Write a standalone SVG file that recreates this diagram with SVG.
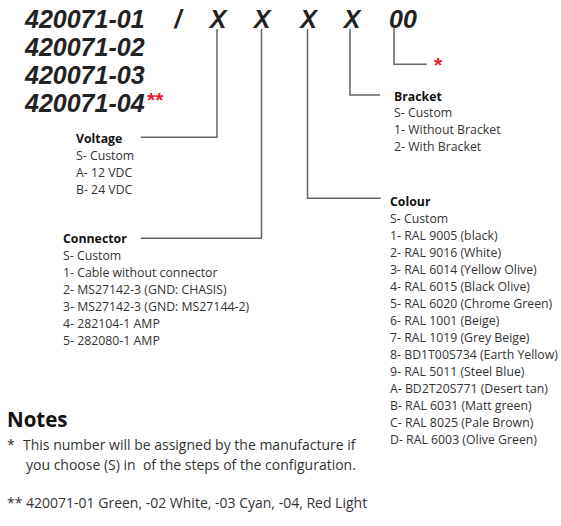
<svg xmlns="http://www.w3.org/2000/svg" width="561" height="526" viewBox="0 0 561 526">
<style>
.pn{font-family:"Liberation Sans",Arial,sans-serif;font-weight:bold;font-style:italic;font-size:25px;fill:#222}
.hd{font-family:"Open Sans","Noto Sans",sans-serif;font-weight:bold;font-size:12.3px;fill:#111}
.it{font-family:"Open Sans","Noto Sans",sans-serif;font-size:12.3px;fill:#333}
.nt{font-family:"Open Sans","Noto Sans",sans-serif;font-size:14px;fill:#333}
.red{font-family:"Liberation Sans",Arial,sans-serif;font-weight:bold;fill:#e8202a}
.ln{fill:none;stroke:#666;stroke-width:1.5}
</style>
<rect width="561" height="526" fill="#fff"/>
<g id="part-numbers">
<text class="pn" x="25" y="27.5">420071-01</text>
<text class="pn" x="25" y="55.5">420071-02</text>
<text class="pn" x="25" y="83.5">420071-03</text>
<text class="pn" x="25" y="111.5">420071-04</text>
<text class="red" x="147" y="106.5" font-size="21">**</text>
<text class="pn" x="178" y="27.5" text-anchor="middle">/</text>
<text class="pn" x="218" y="27.5" text-anchor="middle">X</text>
<text class="pn" x="262" y="27.5" text-anchor="middle">X</text>
<text class="pn" x="308.5" y="27.5" text-anchor="middle">X</text>
<text class="pn" x="352" y="27.5" text-anchor="middle">X</text>
<text class="pn" x="389" y="27.5">00</text>
</g>
<g id="connectors">
<polyline class="ln" points="217,29 217,137.3 140.7,137.3"/>
<polyline class="ln" points="261.5,29 261.5,238.3 140.7,238.3"/>
<polyline class="ln" points="307.5,29 307.5,198.3 380.7,198.3"/>
<polyline class="ln" points="350,29 350,95 380,95"/>
<polyline class="ln" points="394,28 394,64.3 426.7,64.3"/>
</g>
<g id="custom-mark">
<text class="red" x="434" y="71.5" font-size="21">*</text>
</g>
<g id="voltage">
<text class="hd" x="76" y="143">Voltage</text>
<text class="it" x="76" y="160">S- Custom</text>
<text class="it" x="76" y="177">A- 12 VDC</text>
<text class="it" x="76" y="194">B- 24 VDC</text>
</g>
<g id="connector">
<text class="hd" x="63" y="243">Connector</text>
<text class="it" x="63" y="260">S- Custom</text>
<text class="it" x="63" y="277">1- Cable without connector</text>
<text class="it" x="63" y="294">2- MS27142-3 (GND: CHASIS)</text>
<text class="it" x="63" y="311">3- MS27142-3 (GND: MS27144-2)</text>
<text class="it" x="63" y="328">4- 282104-1 AMP</text>
<text class="it" x="63" y="345">5- 282080-1 AMP</text>
</g>
<g id="bracket">
<text class="hd" x="394" y="100.5">Bracket</text>
<text class="it" x="394" y="117">S- Custom</text>
<text class="it" x="394" y="134">1- Without Bracket</text>
<text class="it" x="394" y="151">2- With Bracket</text>
</g>
<g id="colour">
<text class="hd" x="390" y="206">Colour</text>
<text class="it" x="390" y="223">S- Custom</text>
<text class="it" x="390" y="240">1- RAL 9005 (black)</text>
<text class="it" x="390" y="257">2- RAL 9016 (White)</text>
<text class="it" x="390" y="274">3- RAL 6014 (Yellow Olive)</text>
<text class="it" x="390" y="291">4- RAL 6015 (Black Olive)</text>
<text class="it" x="390" y="308">5- RAL 6020 (Chrome Green)</text>
<text class="it" x="390" y="325">6- RAL 1001 (Beige)</text>
<text class="it" x="390" y="342">7- RAL 1019 (Grey Beige)</text>
<text class="it" x="390" y="359">8- BD1T00S734 (Earth Yellow)</text>
<text class="it" x="390" y="376">9- RAL 5011 (Steel Blue)</text>
<text class="it" x="390" y="393">A- BD2T20S771 (Desert tan)</text>
<text class="it" x="390" y="410">B- RAL 6031 (Matt green)</text>
<text class="it" x="390" y="427">C- RAL 8025 (Pale Brown)</text>
<text class="it" x="390" y="444">D- RAL 6003 (Olive Green)</text>
</g>
<g id="notes">
<text x="7" y="427" font-family="'Open Sans','Noto Sans',sans-serif" font-weight="bold" font-size="20.5" fill="#111">Notes</text>
<text class="nt" x="7" y="450">*</text>
<text class="nt" x="23" y="450">This number will be assigned by the manufacture if</text>
<text class="nt" x="26" y="470" xml:space="preserve">you choose (S) in  of the steps of the configuration.</text>
<text class="nt" x="7" y="508">** 420071-01 Green, -02 White, -03 Cyan, -04, Red Light</text>
</g>
</svg>
